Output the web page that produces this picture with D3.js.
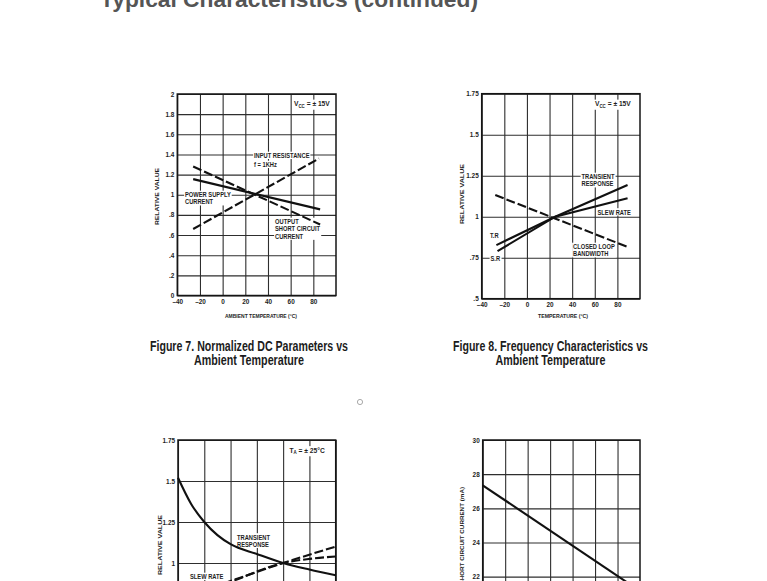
<!DOCTYPE html>
<html>
<head>
<meta charset="utf-8">
<script src="https://cdn.jsdelivr.net/npm/d3@7"></script>
<style>
  body { margin: 0; background: #fff; }
  svg { display: block; font-family: "Liberation Sans", Arial, sans-serif; }
  .tick text { font-size: 6.4px; font-weight: bold; fill: #1e1e1e; }
  .note { font-size: 6.4px; font-weight: bold; fill: #1e1e1e; }
  .cond { font-size: 7.6px; font-weight: bold; fill: #1e1e1e; }
  .axlabel { font-size: 6.2px; font-weight: bold; fill: #1e1e1e; }
  .caption { font-size: 13.8px; font-weight: bold; fill: #1c1c1c; }
</style>
</head>
<body>
<div class="chart"></div>
<script>
// ---- data ----
var tempTicks = [-40, -20, 0, 20, 40, 60, 80];
var tempLabels = ["\u201340", "\u201320", "0", "20", "40", "60", "80"];

// Figure 7: normalized DC parameters
var fig7Ticks = [0, 0.2, 0.4, 0.6, 0.8, 1, 1.2, 1.4, 1.6, 1.8, 2];
var fig7Labels = ["0", ".2", ".4", ".6", ".8", "1", "1.2", "1.4", "1.6", "1.8", "2"];
var fig7InputRes = [[-26, 0.66], [85, 1.36]];
var fig7ShortCircuit = [[-26, 1.28], [86, 0.705]];
var fig7SupplyCurrent = [[-26, 1.155], [86, 0.855]];

// Figure 8: frequency characteristics vs temperature
var relTicks = [0.5, 0.75, 1, 1.25, 1.5, 1.75];
var relLabels = [".5", ".75", "1", "1.25", "1.5", "1.75"];
var fig8Bandwidth = [[-28, 1.132], [90, 0.813]];
var fig8Transient = [[-27, 0.827], [25, 1.0], [89, 1.193]];
var fig8Slew = [[-26, 0.79], [25, 1.0], [89, 1.112]];

// Figure 9: frequency characteristics vs supply voltage (cut off)
var voltTicks = [5, 7.5, 10, 12.5, 15, 17.5, 20];
var fig9Transient = [[5, 1.52], [6.25, 1.36], [7.5, 1.25], [8.75, 1.17], [10, 1.115], [12.5, 1.055], [15, 1.0], [17.5, 0.96], [20, 0.925]];
var fig9SlewA = [[5, 0.78], [10, 0.89], [15, 1.0], [20, 1.1]];
var fig9SlewB = [[5, 0.77], [10, 0.885], [15, 1.0], [17.5, 1.025], [20, 1.04]];

// Figure 10: output short circuit current vs temperature (cut off)
var iscTicks = [18, 20, 22, 24, 26, 28, 30];
var fig10Current = [[-40, 27.35], [90, 21.6]];

var svg = d3.select(".chart").append("svg")
  .attr("width", 767)
  .attr("height", 581);

// header of the page, mostly scrolled out of view
svg.append("text")
  .attr("x", 100).attr("y", 7)
  .attr("font-size", 22).attr("font-weight", "bold")
  .attr("fill", "#555")
  .attr("textLength", 378).attr("lengthAdjust", "spacingAndGlyphs")
  .text("Typical Characteristics (continued)");

function panel(o) {
  var x = d3.scaleLinear().domain(o.xDomain).range([o.x0, o.x1]);
  var y = d3.scaleLinear().domain(o.yDomain).range([o.y1, o.y0]);
  var g = svg.append("g");

  var ya = g.append("g")
    .attr("transform", "translate(" + o.x0 + ",0)")
    .call(d3.axisLeft(y).tickValues(o.yTicks)
      .tickSize(-(o.x1 - o.x0)).tickPadding(3)
      .tickFormat(function(d, i) { return o.yLabels[i]; }));
  ya.select(".domain").remove();
  ya.selectAll("line").attr("stroke", "#2e2e2e").attr("stroke-width", 1.1);

  var xa = g.append("g")
    .attr("transform", "translate(0," + o.y1 + ")")
    .call(d3.axisBottom(x).tickValues(o.xTicks)
      .tickSize(-(o.y1 - o.y0)).tickPadding(4)
      .tickFormat(function(d, i) { return o.xLabels[i]; }));
  xa.select(".domain").remove();
  xa.selectAll("line").attr("stroke", "#2e2e2e").attr("stroke-width", 1.1);

  g.append("rect")
    .attr("x", o.x0).attr("y", o.y0)
    .attr("width", o.x1 - o.x0).attr("height", o.y1 - o.y0)
    .attr("fill", "none").attr("stroke", "#151515").attr("stroke-width", 1.5);

  return { g: g, x: x, y: y };
}

function curve(p, data, dashed, smooth) {
  var line = d3.line()
    .x(function(d) { return p.x(d[0]); })
    .y(function(d) { return p.y(d[1]); });
  if (smooth) line.curve(d3.curveMonotoneX);
  p.g.append("path")
    .datum(data)
    .attr("d", line)
    .attr("fill", "none")
    .attr("stroke", "#111")
    .attr("stroke-width", 2.1)
    .attr("stroke-dasharray", dashed ? "9,3" : null);
}

// small condensed text block with a white patch behind it
function note(p, px, py, lines) {
  var n = p.g.append("g")
    .attr("transform", "translate(" + px + "," + py + ") scale(0.9,1)");
  var t = n.append("text").attr("class", "note");
  lines.forEach(function(s, i) {
    t.append("tspan").attr("x", 0).attr("y", i * 7.4).text(s);
  });
  var b = t.node().getBBox();
  n.insert("rect", "text")
    .attr("x", b.x - 1).attr("y", b.y)
    .attr("width", b.width + 2).attr("height", b.height)
    .attr("fill", "#fff");
}

function cond(p, px, py, main, sub, rest) {
  var n = p.g.append("g")
    .attr("transform", "translate(" + px + "," + py + ") scale(0.88,1)");
  var t = n.append("text").attr("class", "cond");
  t.append("tspan").text(main);
  t.append("tspan").attr("font-size", 5).attr("dy", 1.7).text(sub);
  t.append("tspan").attr("dy", -1.7).text(rest);
  var b = t.node().getBBox();
  n.insert("rect", "text")
    .attr("x", b.x - 1.5).attr("y", b.y)
    .attr("width", b.width + 3).attr("height", b.height + 1)
    .attr("fill", "#fff");
}

function yTitle(px, py, s, len, anchor) {
  svg.append("text")
    .attr("class", "axlabel")
    .attr("transform", "translate(" + px + "," + py + ") rotate(-90)")
    .attr("text-anchor", anchor || "middle")
    .attr("textLength", len).attr("lengthAdjust", "spacingAndGlyphs")
    .text(s);
}

function xTitle(px, py, s, len) {
  svg.append("text")
    .attr("class", "axlabel")
    .attr("x", px).attr("y", py)
    .attr("text-anchor", "middle")
    .attr("textLength", len).attr("lengthAdjust", "spacingAndGlyphs")
    .text(s);
}

function caption(px, py, lines, lens) {
  lines.forEach(function(s, i) {
    svg.append("text")
      .attr("class", "caption")
      .attr("x", px).attr("y", py + i * 14)
      .attr("text-anchor", "middle")
      .attr("textLength", lens[i]).attr("lengthAdjust", "spacingAndGlyphs")
      .text(s);
  });
}

// ---- Figure 7 ----
var p7 = panel({
  x0: 177.3, x1: 336, y0: 94, y1: 295.5,
  xDomain: [-40, 100], yDomain: [0, 2],
  xTicks: tempTicks, xLabels: tempLabels,
  yTicks: fig7Ticks, yLabels: fig7Labels
});
note(p7, 254, 158, ["INPUT RESISTANCE"]);
note(p7, 254, 167, ["f = 1KHz"]);
note(p7, 185, 197, ["POWER SUPPLY", "CURRENT"]);
note(p7, 275, 224, ["OUTPUT", "SHORT CIRCUIT", "CURRENT"]);
curve(p7, fig7InputRes, true);
curve(p7, fig7ShortCircuit, true);
curve(p7, fig7SupplyCurrent, false);
cond(p7, 294, 106, "V", "CC", " = \u00b1 15V");
yTitle(159, 196.5, "RELATIVE VALUE", 57);
xTitle(261, 318, "AMBIENT TEMPERATURE (\u00b0C)", 72);
caption(249, 351, ["Figure 7. Normalized DC Parameters vs", "Ambient Temperature"], [198, 110]);

// ---- Figure 8 ----
var p8 = panel({
  x0: 481.7, x1: 640, y0: 93.7, y1: 298.7,
  xDomain: [-40, 100], yDomain: [0.5, 1.75],
  xTicks: tempTicks, xLabels: tempLabels,
  yTicks: relTicks, yLabels: relLabels
});
note(p8, 581.5, 179, ["TRANSIENT", "RESPONSE"]);
note(p8, 597.5, 214.5, ["SLEW RATE"]);
note(p8, 573, 249, ["CLOSED LOOP", "BANDWIDTH"]);
note(p8, 490, 238, ["T.R"]);
note(p8, 490.5, 260.5, ["S.R"]);
curve(p8, fig8Bandwidth, true);
curve(p8, fig8Transient, false);
curve(p8, fig8Slew, false);
cond(p8, 595, 106, "V", "CC", " = \u00b1 15V");
yTitle(464, 194, "RELATIVE VALUE", 60);
xTitle(563, 318, "TEMPERATURE (\u00b0C)", 50);
caption(550.5, 351, ["Figure 8. Frequency Characteristics vs", "Ambient Temperature"], [195, 110]);

// ---- Figure 9 (lower left, cut by the window) ----
var p9 = panel({
  x0: 178, x1: 335.7, y0: 440, y1: 645,
  xDomain: [5, 20], yDomain: [0.5, 1.75],
  xTicks: voltTicks, xLabels: ["5", "7.5", "10", "12.5", "15", "17.5", "20"],
  yTicks: relTicks, yLabels: relLabels
});
note(p9, 237, 539.5, ["TRANSIENT", "RESPONSE"]);
note(p9, 190, 579, ["SLEW RATE"]);
curve(p9, fig9Transient, false, true);
curve(p9, fig9SlewA, true, true);
curve(p9, fig9SlewB, true, true);
cond(p9, 289.5, 452.5, "T", "A", " = \u00b1 25\u00b0C");
yTitle(162, 545, "RELATIVE VALUE", 60);

// ---- Figure 10 (lower right, cut by the window) ----
var p10 = panel({
  x0: 482.7, x1: 640, y0: 440, y1: 645,
  xDomain: [-40, 100], yDomain: [18, 30],
  xTicks: tempTicks, xLabels: tempLabels,
  yTicks: iscTicks, yLabels: iscTicks.map(String)
});
curve(p10, fig10Current, false);
yTitle(463.5, 487, "OUTPUT SHORT CIRCUIT CURRENT (mA)", 125, "end");

// stray cursor mark in the screenshot
svg.append("circle")
  .attr("cx", 360).attr("cy", 402).attr("r", 2.6)
  .attr("fill", "none").attr("stroke", "#aaa").attr("stroke-width", 1);
</script>
</body>
</html>
